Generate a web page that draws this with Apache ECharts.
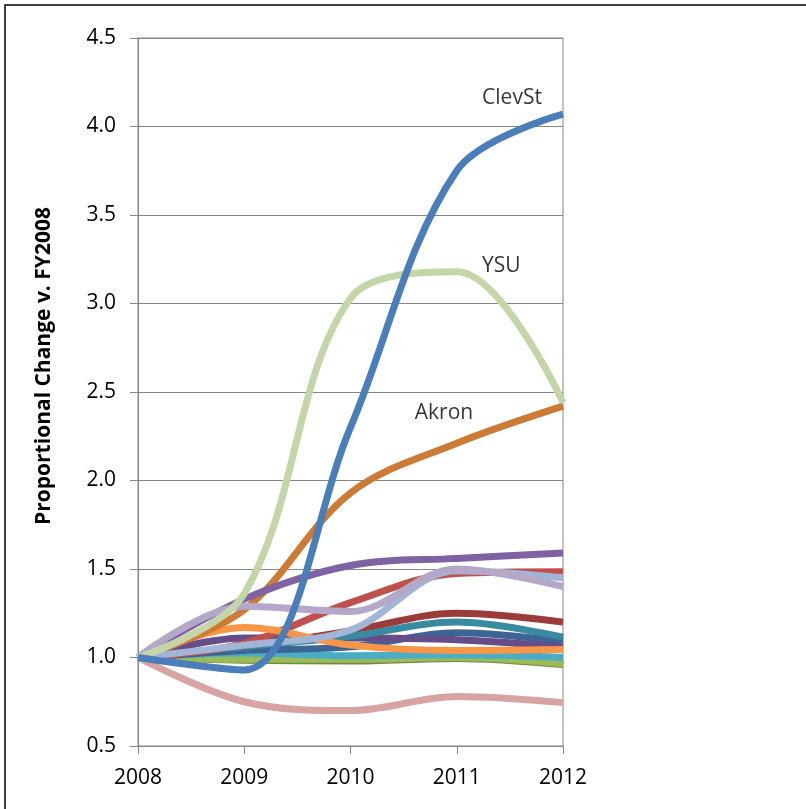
<!DOCTYPE html>
<html><head><meta charset="utf-8">
<script src="https://cdn.jsdelivr.net/npm/echarts@6/dist/echarts.min.js"></script>
<style>html,body{margin:0;padding:0;background:#fff}#c{width:806px;height:809px}</style>
</head><body><div id="c"></div>
<script>
// Fiscal years (x axis)
const years = [2008, 2009, 2010, 2011, 2012];
// Y axis range / ticks
const yMin = 0.5, yMax = 4.5, yStep = 0.5;

// Series values (proportional change vs FY2008)
const darkGreen  = [1.00, 0.985, 0.98, 0.995, 0.96];
const green      = [1.00, 0.99, 0.99, 1.00, 0.965];
const cyan       = [1.00, 1.025, 1.01, 1.015, 1.00];
const pink       = [1.00, 0.75, 0.70, 0.78, 0.745];
const darkBlue   = [1.00, 1.04, 1.06, 1.14, 1.09];
const darkPurple = [1.00, 1.11, 1.11, 1.10, 1.06];
const darkRed    = [1.00, 1.06, 1.15, 1.25, 1.20];
const teal       = [1.00, 1.06, 1.12, 1.20, 1.115];
const red        = [1.00, 1.08, 1.31, 1.475, 1.485];
const orange     = [1.00, 1.17, 1.07, 1.04, 1.045];
const akron      = [1.00, 1.27, 1.93, 2.21, 2.42];
const purple     = [1.00, 1.33, 1.52, 1.56, 1.59];
const lightBlue  = [1.00, 1.07, 1.155, 1.49, 1.45];
const lavender   = [1.00, 1.29, 1.26, 1.50, 1.40];
const ysu        = [1.00, 1.36, 3.03, 3.18, 2.44];
const clevSt     = [1.00, 0.93, 2.30, 3.75, 4.07];

// Text annotations (placed in data coordinates)
const noteNames = ['ClevSt', 'YSU', 'Akron'];
const noteX = [2011.52, 2011.42, 2010.88];
const noteY = [4.16, 3.21, 2.38];

const FONT = 'Open Sans';
const seriesDefs = [
  ['Dark green', darkGreen, '#71893F'],
  ['Green', green, '#9BBB59'],
  ['Cyan', cyan, '#4BACC6'],
  ['Pink', pink, '#D8A4A3'],
  ['Dark blue', darkBlue, '#3C6596'],
  ['Dark purple', darkPurple, '#644D89'],
  ['Dark red', darkRed, '#9B3B3A'],
  ['Teal', teal, '#378A9F'],
  ['Red', red, '#C0504D'],
  ['Orange', orange, '#F79646'],
  ['Akron', akron, '#CD7A35'],
  ['Purple', purple, '#7F62A1'],
  ['Light blue', lightBlue, '#A2B5D6'],
  ['Lavender', lavender, '#B5A7C8'],
  ['YSU', ysu, '#C4D6A8'],
  ['ClevSt', clevSt, '#4A7EBB']
];

const series = seriesDefs.map(([name, vals, color]) => ({
  name, type: 'line', smooth: 0.35, symbol: 'none', silent: true,
  data: years.map((y, i) => [y, vals[i]]),
  lineStyle: { width: 7, color },
  itemStyle: { color }
}));
series.push({
  type: 'scatter', symbolSize: 0, silent: true,
  data: noteNames.map((n, i) => ({ value: [noteX[i], noteY[i]], name: n })),
  label: { show: true, position: 'inside', formatter: p => p.name,
           color: '#000', fontFamily: FONT, fontSize: 21 }
});

const chart = echarts.init(document.getElementById('c'), null, { renderer: 'canvas' });
chart.setOption({
  animation: false,
  backgroundColor: '#fff',
  grid: { left: 138, right: 243, top: 38, bottom: 63, show: true,
          borderColor: '#878787', borderWidth: 1, backgroundColor: 'transparent' },
  xAxis: {
    type: 'value', min: years[0], max: years[years.length - 1], interval: 1,
    axisLine: { show: true, lineStyle: { color: '#878787', width: 1 } },
    axisTick: { show: true, length: 8, lineStyle: { color: '#878787' } },
    splitLine: { show: false },
    axisLabel: { color: '#000', fontFamily: FONT, fontSize: 21, margin: 22,
                 formatter: v => String(v) }
  },
  yAxis: {
    type: 'value', min: yMin, max: yMax, interval: yStep,
    axisLine: { show: true, lineStyle: { color: '#878787', width: 1 } },
    axisTick: { show: true, length: 8, lineStyle: { color: '#878787' } },
    splitLine: { show: true, lineStyle: { color: '#878787', width: 1 } },
    axisLabel: { color: '#000', fontFamily: FONT, fontSize: 21, margin: 22,
                 formatter: v => v.toFixed(1) }
  },
  graphic: [
    { type: 'rect', shape: { x: 5, y: 5, width: 900, height: 900 },
      style: { fill: 'none', stroke: '#000', lineWidth: 1.5 }, silent: true, z: 100 },
    { type: 'text', x: 44, y: 366, rotation: Math.PI / 2,
      style: { text: 'Proportional Change v. FY2008', fontFamily: FONT, fontWeight: 'bold',
               fontSize: 21, fill: '#000', align: 'center', verticalAlign: 'middle' } }
  ],
  series
});
</script></body></html>
